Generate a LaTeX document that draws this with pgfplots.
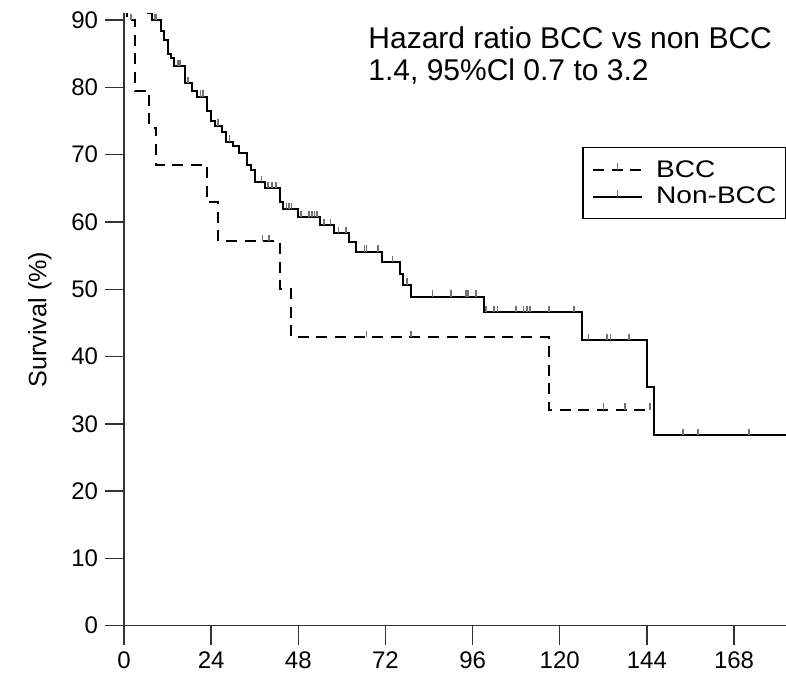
\documentclass[border=0pt]{standalone}
\usepackage{fontspec}
\setmainfont{Liberation Sans}
\newfontfamily\legfont[FakeStretch=1.17]{Liberation Sans}
\usepackage{pgfplots}
\pgfplotsset{compat=1.18}
\pgfdeclareplotmark{cens}{\pgfpathmoveto{\pgfpointorigin}\pgfpathlineto{\pgfpoint{0pt}{3.2bp}}\pgfusepathqstroke}
\begin{document}
\begin{tikzpicture}
\path[use as bounding box] (0,0) rectangle (393bp,337.5bp);
\begin{axis}[
  at={(62bp,24.65bp)}, anchor=south west,
  scale only axis, width=331bp, height=306.2bp,
  xmin=0, xmax=182.3, ymin=0, ymax=91,
  axis lines*=left,
  axis line style={line width=0.7bp, black!80},
  tick align=outside,
  tick style={line width=0.7bp, black!80},
  major tick length=9.5bp,
  xtick={0,24,...,168}, ytick={0,10,...,90},
  ticklabel style={font=\fontsize{12bp}{14bp}\selectfont},
  /pgf/number format/assume math mode=true,
  ylabel={Survival (\%)},
  ylabel style={at={(axis description cs:-0.127,0.5)}, anchor=center, font=\fontsize{12.6bp}{15bp}\selectfont},
  legend style={at={(axis description cs:1,0.782)}, anchor=north east, draw=black, line width=0.7bp,
    font=\legfont\fontsize{12bp}{14bp}\selectfont, inner xsep=4.5bp, inner ysep=4.4bp, row sep=0bp, column sep=6.5bp,
    nodes={inner sep=0bp, text height=10.4bp, text depth=3bp}},
  legend cell align=left,
  legend image code/.code={\draw[#1] (0bp,0bp) -- (24.5bp,0bp); \draw[black!55, solid, line width=0.8bp] (12.25bp,0bp) -- (12.25bp,3.2bp);},
]
\addplot[const plot, black, line width=1bp, dash pattern=on 5.5bp off 3.8bp] coordinates {
(0,100) (0.7,90.0) (3.0,79.5) (6.96,74.0) (8.8,68.5) (22.9,62.9) (26.0,57.1) (43.0,50.0) (45.9,42.9) (117.0,32.1) (144.9,32.1)};
\addlegendentry{BCC}
\addplot[const plot, black, line width=1bp] coordinates {
(0,100) (6.7,91.0) (7.6,90.0) (10.1,88.3) (11.1,87.1) (12.0,84.9) (12.9,84.4) (13.9,83.1) (16.8,80.6) (18.6,79.4) (20.0,78.6) (22.9,76.5) (24.0,75.0) (25.1,74.3) (26.9,73.3) (28.1,71.9) (30.1,71.3) (31.8,70.2) (34.0,68.5) (35.1,67.7) (36.0,65.9) (38.8,65.0) (43.0,62.9) (43.9,61.9) (48.0,60.7) (54.0,59.5) (57.9,58.3) (62.0,57.0) (63.9,55.6) (71.0,54.0) (76.0,52.3) (76.9,50.7) (79.0,48.9) (99.0,46.6) (126.1,42.4) (144.0,35.4) (146.0,28.3) (182.3,28.3)};
\addlegendentry{Non-BCC}
\addplot[only marks, mark=cens, black!55, line width=0.8bp, forget plot] coordinates {
(1.9,90.0) (38.1,57.1) (39.9,57.1) (66.8,42.9) (79.0,42.9) (132.0,32.1) (137.9,32.1) (144.9,32.1)};
\addplot[only marks, mark=cens, black!55, line width=0.8bp, forget plot] coordinates {
(8.5,90.0) (9.0,90.0) (14.8,83.1) (15.4,83.1) (17.7,80.6) (21.1,78.6) (21.7,78.6) (25.9,74.3) (29.0,71.9) (37.9,65.9) (39.7,65.0) (40.7,65.0) (41.9,65.0) (44.7,61.9) (45.4,61.9) (46.1,61.9) (48.7,60.7) (51.0,60.7) (51.8,60.7) (52.5,60.7) (53.2,60.7) (55.1,59.5) (56.9,59.5) (59.1,58.3) (61.1,58.3) (66.2,55.6) (66.8,55.6) (70.0,55.6) (73.9,54.0) (77.9,50.7) (85.0,48.9) (90.1,48.9) (94.1,48.9) (94.8,48.9) (96.9,48.9) (99.7,46.6) (101.9,46.6) (102.8,46.6) (108.0,46.6) (110.0,46.6) (110.9,46.6) (111.8,46.6) (117.0,46.6) (123.9,46.6) (127.9,42.4) (133.0,42.4) (134.0,42.4) (139.0,42.4) (154.0,28.3) (158.0,28.3) (172.1,28.3)};
\node[anchor=west, font=\fontsize{15bp}{17bp}\selectfont, inner sep=0pt] at (axis cs:67.2,87.3) {Hazard ratio BCC vs non BCC};
\node[anchor=west, font=\fontsize{15bp}{17bp}\selectfont, inner sep=0pt] at (axis cs:67.2,82.4) {1.4, 95\%Cl 0.7 to 3.2};
\end{axis}
\end{tikzpicture}
\end{document}
